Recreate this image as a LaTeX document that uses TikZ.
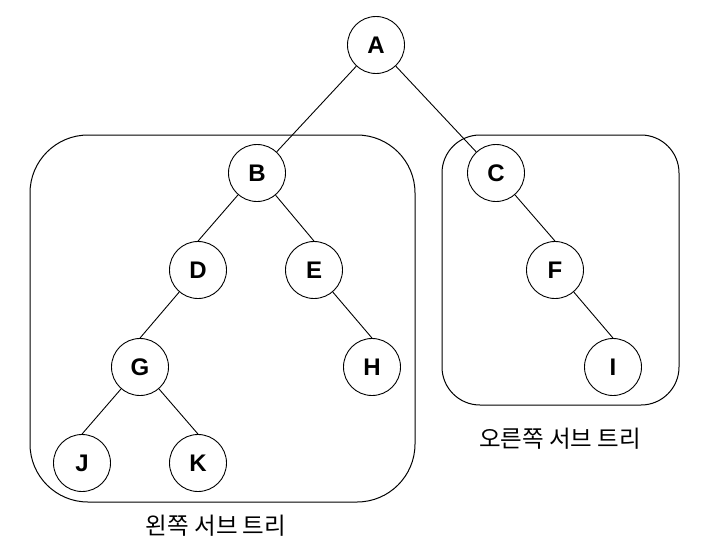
\documentclass[tikz,border=0pt]{standalone}
\usepackage{fontspec}
\setmainfont{Liberation Sans}
\newfontfamily\krfont{Noto Sans CJK KR}
\tikzset{
  tnode/.style={circle,draw,fill=white,line width=0.9pt,minimum size=57pt,inner sep=0pt,font=\fontsize{24}{24}\selectfont\bfseries},
  edge/.style={line width=0.9pt},
  subbox/.style={draw,line width=1pt},
  sublabel/.style={font=\krfont\fontsize{23.5}{24}\selectfont,inner sep=0pt}
}
\begin{document}
\begin{tikzpicture}[x=1pt,y=-1pt]
\useasboundingbox (0,0) rectangle (714,554);
\draw[subbox,rounded corners=58pt] (30,135) rectangle (415,502);
\draw[subbox,rounded corners=38pt] (442,135) rectangle (679,405);
\node[tnode] (A) at (376,45) {A};
\node[tnode] (B) at (257,173) {B};
\node[tnode] (C) at (496,173) {C};
\node[tnode] (D) at (198,270) {D};
\node[tnode] (E) at (314,270) {E};
\node[tnode] (F) at (555,270) {F};
\node[tnode] (G) at (140,367) {G};
\node[tnode] (H) at (372,367) {H};
\node[tnode] (I) at (613,367) {I};
\node[tnode] (J) at (82,463) {J};
\node[tnode] (K) at (198,463) {K};
\draw[edge] (A) -- (B);
\draw[edge] (A) -- (C);
\draw[edge] (B) -- (D.north);
\draw[edge] (B) -- (E.north);
\draw[edge] (C) -- (F.north);
\draw[edge] (D) -- (G.north);
\draw[edge] (E) -- (H.north);
\draw[edge] (F) -- (I.north);
\draw[edge] (G) -- (J.north);
\draw[edge] (G) -- (K.north);
\node[sublabel] (LL) at (216,526) {왼쪽 서브 트리};
\node[sublabel] (RL) at (560,439) {오른쪽 서브 트리};
\end{tikzpicture}
\end{document}
